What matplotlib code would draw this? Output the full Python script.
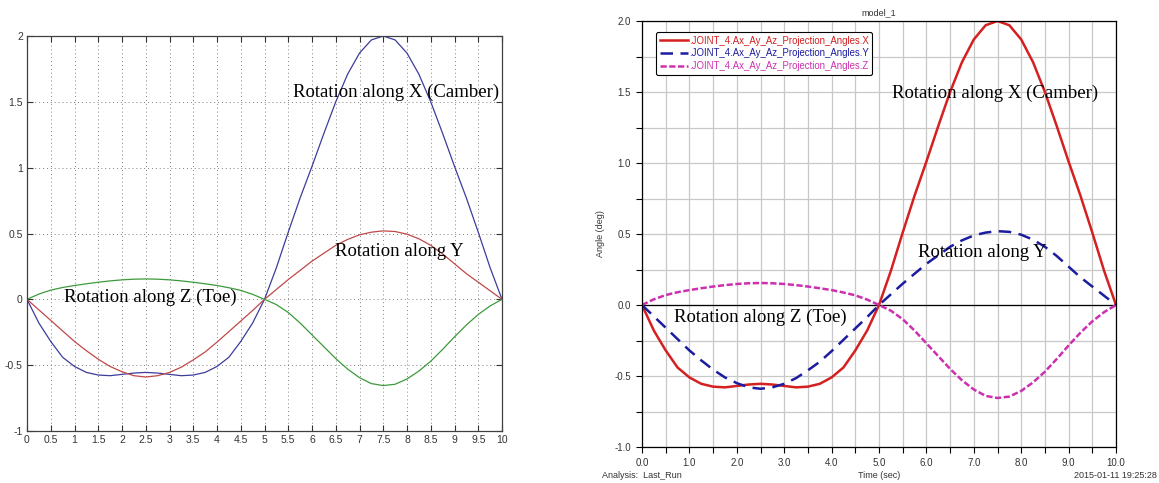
# suspension joint rotation: MATLAB result (left) vs ADAMS result (right)

import numpy as np
import matplotlib.pyplot as plt
from matplotlib.ticker import MultipleLocator

# time samples every 0.25 s
time = np.linspace(0, 10, 41)

# rotation along X (camber), deg
rot_x = [0.0, -0.18, -0.32, -0.44, -0.51, -0.555, -0.575, -0.58, -0.57, -0.56,
         -0.555, -0.56, -0.57, -0.58, -0.575, -0.555, -0.51, -0.44, -0.32, -0.18,
         0.0, 0.24, 0.51, 0.77, 1.01, 1.26, 1.5, 1.71, 1.87, 1.97,
         2.0, 1.97, 1.87, 1.71, 1.5, 1.26, 1.01, 0.77, 0.51, 0.24, 0.0]

# rotation along Y, deg
rot_y = [0.0, -0.08, -0.16, -0.24, -0.32, -0.39, -0.455, -0.51, -0.55, -0.58,
         -0.59, -0.58, -0.555, -0.515, -0.46, -0.40, -0.325, -0.245, -0.165, -0.085,
         0.0, 0.075, 0.15, 0.22, 0.29, 0.35, 0.41, 0.455, 0.49, 0.51,
         0.52, 0.515, 0.495, 0.46, 0.41, 0.345, 0.27, 0.195, 0.13, 0.065, 0.0]

# rotation along Z (toe), deg
rot_z = [0.0, 0.04, 0.07, 0.09, 0.105, 0.118, 0.13, 0.14, 0.148, 0.153,
         0.155, 0.153, 0.148, 0.14, 0.13, 0.118, 0.105, 0.088, 0.068, 0.038,
         0.0, -0.04, -0.10, -0.18, -0.27, -0.36, -0.45, -0.53, -0.595, -0.64,
         -0.655, -0.645, -0.605, -0.545, -0.47, -0.38, -0.285, -0.195, -0.115, -0.05, 0.0]

legend_names = [".JOINT_4.Ax_Ay_Az_Projection_Angles.X",
                ".JOINT_4.Ax_Ay_Az_Projection_Angles.Y",
                ".JOINT_4.Ax_Ay_Az_Projection_Angles.Z"]

serif = ["Liberation Serif", "DejaVu Serif"]
sans = ["Liberation Sans", "DejaVu Sans"]

W, H = 1159, 483
fig = plt.figure(figsize=(W / 100, H / 100), dpi=100)


def box(x0, y0, x1, y1):
    # pixel box -> figure fraction rect
    return [x0 / W, 1 - y1 / H, (x1 - x0) / W, (y1 - y0) / H]


# ---------- left: MATLAB style ----------
ax1 = fig.add_axes(box(27, 36, 502, 431))
for vals, c in zip([rot_x, rot_y, rot_z], ["#3c3c9c", "#c04848", "#3c9a3c"]):
    ax1.plot(time, vals, color=c, lw=0.9, solid_joinstyle="round")
ax1.set_xlim(0, 10)
ax1.set_ylim(-1, 2)
ax1.xaxis.set_major_locator(MultipleLocator(0.5))
ax1.yaxis.set_major_locator(MultipleLocator(0.5))
ax1.set_xticklabels(["%g" % v for v in ax1.get_xticks()])
ax1.set_yticklabels(["%g" % v for v in ax1.get_yticks()])
ax1.grid(True, color="#808080", lw=0.7, ls=(0, (1, 3)))
ax1.tick_params(direction="in", length=4, width=0.8, top=True, right=True,
                labelsize=7.5, pad=3, colors="#333333")
for lab in ax1.get_xticklabels() + ax1.get_yticklabels():
    lab.set_family(sans)
    lab.set_color("#333333")
for s in ax1.spines.values():
    s.set_color("#404040")
    s.set_linewidth(0.9)
ax1.text(5.59, 1.57, "Rotation along X (Camber)", family=serif, fontsize=13.5, va="center")
ax1.text(6.48, 0.365, "Rotation along Y", family=serif, fontsize=13.5, va="center")
ax1.text(0.77, 0.015, "Rotation along Z (Toe)", family=serif, fontsize=13.5, va="center")

# ---------- right: ADAMS style ----------
ax2 = fig.add_axes(box(642, 21, 1116, 447))
lx, = ax2.plot(time, rot_x, color="#d42020", lw=1.8, ls="-", solid_joinstyle="round")
ly, = ax2.plot(time, rot_y, color="#1c1ca0", lw=1.8, ls=(0, (5, 3)))
lz, = ax2.plot(time, rot_z, color="#cc30b0", lw=1.8, ls=(0, (2.5, 1)))
ax2.axhline(0, color="black", lw=0.9, zorder=1.5)
ax2.set_xlim(0, 10)
ax2.set_ylim(-1, 2)
ax2.xaxis.set_major_locator(MultipleLocator(1))
ax2.xaxis.set_minor_locator(MultipleLocator(0.5))
ax2.yaxis.set_major_locator(MultipleLocator(0.5))
ax2.yaxis.set_minor_locator(MultipleLocator(0.25))
ax2.set_xticklabels(["%.1f" % v for v in ax2.get_xticks()])
ax2.set_yticklabels(["%.1f" % v for v in ax2.get_yticks()])
ax2.grid(True, which="both", color="#c8c8c8", lw=0.9)
ax2.set_axisbelow(True)
ax2.tick_params(which="both", direction="out", length=4, width=0.8,
                labelsize=7, labelcolor="#333333", pad=4)
for lab in ax2.get_xticklabels() + ax2.get_yticklabels():
    lab.set_family(sans)
for s in ax2.spines.values():
    s.set_color("black")
    s.set_linewidth(0.9)
ax2.set_title("model_1", family=sans, fontsize=6.5, color="#333333", pad=4)
ax2.set_ylabel("Angle (deg)", family=sans, fontsize=6.5, color="#333333", labelpad=7)

leg = ax2.legend([lx, ly, lz], legend_names, loc="upper left",
                 bbox_to_anchor=(0.02, 0.985), prop={"family": sans, "size": 6.9},
                 handlelength=3.0, handletextpad=0.05, labelspacing=0.3,
                 borderpad=0.35, frameon=True, fancybox=True, framealpha=1)
leg.get_frame().set_edgecolor("black")
leg.get_frame().set_linewidth(0.8)
for txt, c in zip(leg.get_texts(), ["#d42020", "#1c1ca0", "#cc30b0"]):
    txt.set_color(c)

ax2.text(5.28, 1.49, "Rotation along X (Camber)", family=serif, fontsize=13.5, va="center")
ax2.text(5.83, 0.373, "Rotation along Y", family=serif, fontsize=13.5, va="center")
ax2.text(0.68, -0.089, "Rotation along Z (Toe)", family=serif, fontsize=13.5, va="center")

fig.text(879 / W, 1 - 475 / H, "Time (sec)", family=sans, fontsize=6.5,
         color="#333333", ha="center", va="center")
fig.text(602 / W, 1 - 475 / H, "Analysis:  Last_Run", family=sans, fontsize=6.5,
         color="#333333", ha="left", va="center")
fig.text(1157 / W, 1 - 475 / H, "2015-01-11 19:25:28", family=sans, fontsize=6.5,
         color="#333333", ha="right", va="center")

fig.savefig("out.png", dpi=100)
